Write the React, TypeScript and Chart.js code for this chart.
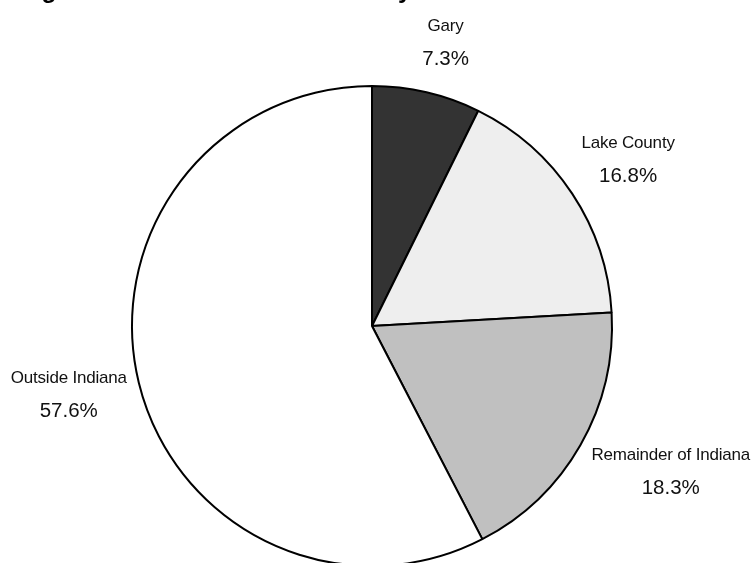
import React, { useEffect, useRef } from "react";
import { Chart, registerables } from "chart.js";

Chart.register(...registerables);

// Share of headcount by place of residence
const categories = ["Gary", "Lake County", "Remainder of Indiana", "Outside Indiana"];
const shares = [7.3, 16.8, 18.3, 57.6];
const sliceColors = ["#333333", "#eeeeee", "#c0c0c0", "#ffffff"];
const chartTitle = "Origin of Headcount Enrollment by Residence";

// Small per-label nudges (px) applied after placing each label outside its slice
const labelNudge: [number, number][] = [
  [11, -14],
  [7, -14],
  [11, 9],
  [-2, 3],
];

const NAME_FONT = "17px 'Liberation Sans', Arial, sans-serif";
const PCT_FONT = "20.5px 'Liberation Sans', Arial, sans-serif";
const LINE_GAP = 33;

const titlePlugin = {
  id: "clippedTitle",
  afterDraw(chart: any) {
    const ctx = chart.ctx;
    ctx.save();
    ctx.font = "bold 24.5px 'Liberation Sans', Arial, sans-serif";
    ctx.fillStyle = "#000";
    ctx.textAlign = "left";
    ctx.textBaseline = "alphabetic";
    ctx.fillText(chartTitle, 6, -2);
    ctx.restore();
  },
};

const outsideLabels = {
  id: "outsideLabels",
  afterDatasetsDraw(chart: any) {
    const ctx = chart.ctx;
    const meta = chart.getDatasetMeta(0);
    ctx.save();
    ctx.fillStyle = "#111";
    ctx.textAlign = "center";
    ctx.textBaseline = "middle";
    meta.data.forEach((arc: any, i: number) => {
      const p = arc.getProps(["x", "y", "startAngle", "endAngle", "outerRadius"], true);
      const mid = (p.startAngle + p.endAngle) / 2;
      const dx = Math.cos(mid);
      const dy = Math.sin(mid);
      const gap = 12;
      const ax = p.x + (p.outerRadius + gap) * dx;
      const ay = p.y + (p.outerRadius + gap) * dy;
      const name = categories[i];
      const pct = shares[i].toFixed(1) + "%";
      ctx.font = NAME_FONT;
      (ctx as any).letterSpacing = "-0.2px";
      const wName = ctx.measureText(name).width;
      (ctx as any).letterSpacing = "0px";
      ctx.font = PCT_FONT;
      const wPct = ctx.measureText(pct).width;
      const w = Math.max(wName, wPct);
      const h = LINE_GAP + 16;
      const cx = ax + (dx * w) / 2 + labelNudge[i][0];
      const cy = ay + (dy * h) / 2 + labelNudge[i][1];
      ctx.font = NAME_FONT;
      (ctx as any).letterSpacing = "-0.2px";
      ctx.fillText(name, cx, cy - LINE_GAP / 2);
      (ctx as any).letterSpacing = "0px";
      ctx.font = PCT_FONT;
      ctx.fillText(pct, cx, cy + LINE_GAP / 2);
    });
    ctx.restore();
  },
};

export default function App() {
  const canvasRef = useRef<HTMLCanvasElement | null>(null);

  useEffect(() => {
    if (!canvasRef.current) return;
    const chart = new Chart(canvasRef.current, {
      type: "pie",
      data: {
        labels: categories,
        datasets: [
          {
            data: shares,
            backgroundColor: sliceColors,
            borderColor: "#000000",
            borderWidth: 2,
            borderAlign: "center",
          },
        ],
      },
      options: {
        animation: false,
        responsive: false,
        maintainAspectRatio: false,
        rotation: 0,
        layout: { padding: { top: 85, bottom: 53, left: 0, right: 11 } },
        plugins: {
          legend: { display: false },
          title: { display: false },
          tooltip: { enabled: false },
        },
      },
      plugins: [outsideLabels, titlePlugin],
    });
    return () => chart.destroy();
  }, []);

  return (
    <div
      style={{
        position: "fixed",
        left: 0,
        top: 0,
        width: 755,
        height: 563,
        overflow: "hidden",
        background: "#fff",
      }}
    >
      <canvas ref={canvasRef} width={755} height={620} style={{ display: "block" }} />
    </div>
  );
}
